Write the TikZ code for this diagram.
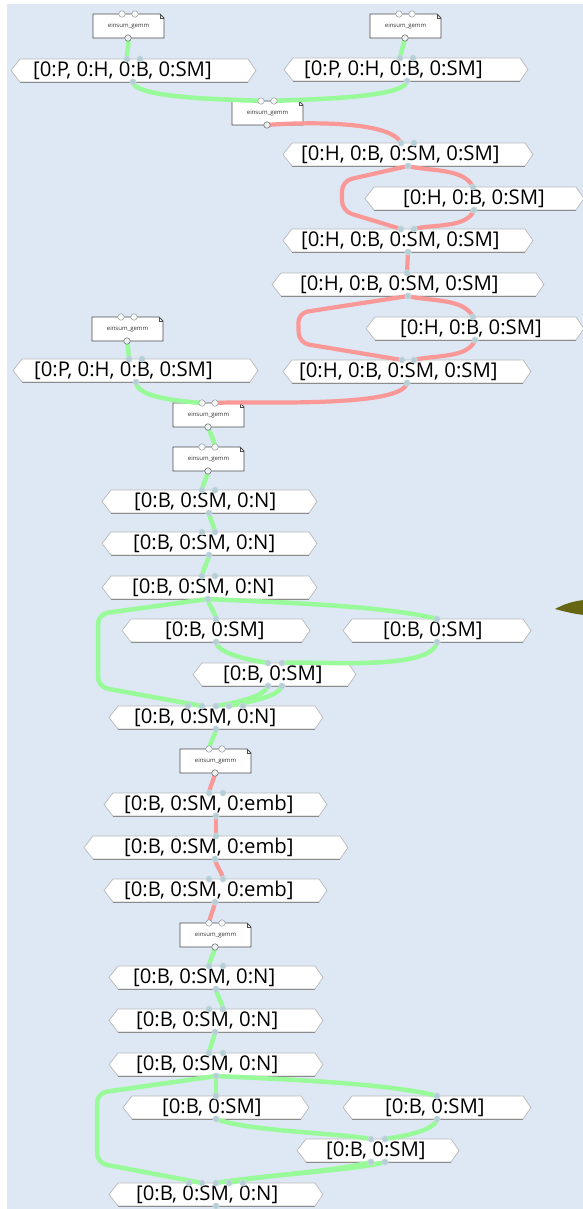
\documentclass[tikz,border=0pt]{standalone}
\usepackage{fontspec}
\setmainfont{Open Sans}
\usepackage{tikz}
\definecolor{fond}{RGB}{221,232,244}
\definecolor{vert}{RGB}{152,250,152}
\definecolor{rouge}{RGB}{250,152,152}
\definecolor{pin}{RGB}{182,207,215}
\definecolor{feuille}{RGB}{102,102,18}
\tikzstyle{lienV} = [line width=4.5pt,draw=vert,line cap=round]
\tikzstyle{lienR} = [line width=4.2pt,draw=rouge,line cap=round]
\tikzstyle{tenseur} = [fill=white,draw=gray!55,line width=0.7pt]
\tikzstyle{ombre} = [draw=gray!90,line width=0.8pt]
\tikzstyle{texte} = [anchor=west,inner sep=0pt,font=\fontsize{20.3}{21}\selectfont]
\tikzstyle{gemm} = [fill=white,draw=black!70,line width=0.8pt]
\tikzstyle{gemmtexte} = [inner sep=0pt,font=\fontsize{6}{7}\selectfont,text=black!80]
\tikzstyle{port} = [circle,fill=pin,draw=pin!60!white,inner sep=0pt,minimum size=6.5pt,line width=0.4pt]
\tikzstyle{portE} = [circle,fill=pin!15!white,draw=gray!80,inner sep=0pt,minimum size=6.5pt,line width=0.5pt]
\tikzstyle{portS} = [circle,fill=pin!30!white,draw=black!60,inner sep=0pt,minimum size=6.5pt,line width=0.5pt]

% tensor: name, left tip, right tip, top, text start, label
\newcommand{\tens}[6]{%
  \draw[tenseur] (#2,#4+11.5) -- (#2+9,#4) -- (#3-8,#4) -- (#3,#4+11.5) -- (#3-8,#4+23) -- (#2+9,#4+23) -- cycle;
  \draw[ombre] (#2+9,#4+23) -- (#3-8,#4+23);
  \node[texte] (#1) at (#5,#4+11.5) {#6};
}
% einsum box: name, left, top
\newcommand{\gemm}[3]{%
  \draw[gemm] (#2,#3) -- (#2+67,#3) -- (#2+71,#3+4) -- (#2+71,#3+24) -- (#2,#3+24) -- cycle;
  \draw[gemm,fill=none,line width=0.5pt] (#2+67,#3) -- (#2+67,#3+4) -- (#2+71,#3+4);
  \node[gemmtexte] (#1) at (#2+35.5,#3+12.5) {einsum\_gemm};
  \coordinate (#1a) at (#2+29,#3);
  \coordinate (#1b) at (#2+42,#3);
  \coordinate (#1o) at (#2+35,#3+24);
}

\begin{document}
\begin{tikzpicture}[x=1pt,y=-1pt]
	\useasboundingbox (0,0) rectangle (583,1209);
	\fill[fond] (7,4) rectangle (583,1209);

	\tens{T1}{11}{256}{59}{33}{[0:P, 0:H, 0:B, 0:SM]}
	\tens{T2}{284}{528}{58}{304}{[0:P, 0:H, 0:B, 0:SM]}
	\tens{T3}{283}{533}{143}{301}{[0:H, 0:B, 0:SM, 0:SM]}
	\tens{T4}{365}{584}{187}{403}{[0:H, 0:B, 0:SM]}
	\tens{T5}{283}{533}{229}{301}{[0:H, 0:B, 0:SM, 0:SM]}
	\tens{T6}{272}{544}{273}{300}{[0:H, 0:B, 0:SM, 0:SM]}
	\tens{T7}{366}{584}{317}{400}{[0:H, 0:B, 0:SM]}
	\tens{T8}{283}{531}{360}{299}{[0:H, 0:B, 0:SM, 0:SM]}
	\tens{T9}{13}{258}{359}{34}{[0:P, 0:H, 0:B, 0:SM]}
	\tens{T10}{102}{317}{490}{134}{[0:B, 0:SM, 0:N]}
	\tens{T11}{102}{317}{532}{133}{[0:B, 0:SM, 0:N]}
	\tens{T12}{102}{317}{576}{132}{[0:B, 0:SM, 0:N]}
	\tens{T13}{122}{310}{619}{165}{[0:B, 0:SM]}
	\tens{T14}{343}{531}{619}{383}{[0:B, 0:SM]}
	\tens{T15}{193}{356}{663}{223}{[0:B, 0:SM]}
	\tens{T16}{109}{323}{706}{134}{[0:B, 0:SM, 0:N]}
	\tens{T17}{104}{327}{793}{124}{[0:B, 0:SM, 0:emb]}
	\tens{T18}{84}{348}{836}{124}{[0:B, 0:SM, 0:emb]}
	\tens{T19}{104}{327}{879}{124}{[0:B, 0:SM, 0:emb]}
	\tens{T20}{109}{323}{966}{133}{[0:B, 0:SM, 0:N]}
	\tens{T21}{109}{323}{1009}{136}{[0:B, 0:SM, 0:N]}
	\tens{T22}{109}{323}{1053}{136}{[0:B, 0:SM, 0:N]}
	\tens{T23}{123}{309}{1096}{162}{[0:B, 0:SM]}
	\tens{T24}{343}{531}{1096}{385}{[0:B, 0:SM]}
	\tens{T25}{297}{459}{1139}{326}{[0:B, 0:SM]}
	\tens{T26}{109}{323}{1183}{136}{[0:B, 0:SM, 0:N]}

	\gemm{E1}{93}{14}
	\gemm{E2}{370}{14}
	\gemm{E3}{232}{101}
	\gemm{E4}{92}{317}
	\gemm{E5}{173}{403}
	\gemm{E6}{173}{447}
	\gemm{E7}{180}{749}
	\gemm{E8}{180}{923}

	% ports of the tensors
	\def\ports{T1a/127/59,T1b/140/59,T1o/133/82,
		T2a/400/58,T2b/413/58,T2o/407/81,
		T3a/401/143,T3b/414/143,T3o/408/166,
		T4a/473/187,T4o/474/210,
		T5a/401/229,T5b/414/229,T5o/408/252,
		T6a/407/273,T6o/408/296,
		T7a/473/317,T7o/475/340,
		T8a/402/360,T8b/414/360,T8o/407/383,
		T9a/129/359,T9b/142/359,T9o/136/382,
		T10a/202/490,T10b/215/490,T10o/209/513,
		T11a/202/532,T11b/215/532,T11o/209/555,
		T12a/202/576,T12b/215/576,T12o/208/599,
		T13a/216/619,T13o/216/642,
		T14a/437/619,T14o/437/642,
		T15a/268/663,T15b/282/663,T15o/268/686,T15p/282/686,
		T16a/188/706,T16b/202/706,T16c/216/706,T16d/229/706,T16e/243/706,T16o/216/729,
		T17a/209/793,T17b/223/793,T17o/216/816,
		T18a/216/836,T18o/215/859,
		T19a/209/879,T19b/223/879,T19o/215/902,
		T20a/209/966,T20b/223/966,T20o/216/989,
		T21a/209/1009,T21b/223/1009,T21o/215/1032,
		T22a/209/1053,T22b/223/1053,T22o/216/1076,
		T23a/216/1096,T23o/216/1119,
		T24a/437/1096,T24o/437/1119,
		T25a/371/1139,T25b/385/1139,T25o/371/1162,T25p/385/1162,
		T26a/189/1183,T26b/202/1183,T26c/216/1183,T26d/229/1183,T26e/243/1183,T26o/216/1206}
	\foreach \n/\x/\y in \ports {\coordinate (\n) at (\x,\y);}

	\fill[feuille] (555,609) .. controls (566,603) and (575,601) .. (584,600) -- (584,615) .. controls (575,614) and (566,612) .. cycle;

	% top part
	\draw[lienV] (E1o) to[out=-80,in=95] (T1a);
	\draw[lienV] (E2o) to[out=-100,in=80] (T2a);
	\draw[lienV] (T1o) to[out=-85,in=175,looseness=0.35] (E3a);
	\draw[lienV] (T2o) to[out=-95,in=5,looseness=0.35] (E3b);
	\draw[lienR] (E3o) to[out=5,in=115,looseness=0.5] (T3a);
	\draw[lienR] (T3o) to[out=-15,in=115,looseness=0.8] (T4a);
	\draw[lienR,rounded corners=10pt] (T3o) -- (342,181) -- (342,211) -- (T5a);
	\draw[lienR] (T4o) to[out=-110,in=15,looseness=0.8] (T5b);
	\draw[lienR] (T5o) -- (T6a);
	\draw[lienR] (T6o) to[out=-15,in=115,looseness=0.8] (T7a);
	\draw[lienR,rounded corners=10pt] (T6o) -- (298,313) -- (299,343) -- (T8a);
	\draw[lienR] (T7o) to[out=-110,in=15,looseness=0.8] (T8b);
	\draw[lienR] (T8o) to[out=-100,in=5,looseness=0.35] (E5b);
	\draw[lienV] (E4o) to[out=-80,in=95] (T9a);
	\draw[lienV] (T9o) to[out=-90,in=175,looseness=0.6] (E5a);
	\draw[lienV] (E5o) to[out=-70,in=100] (E6b);

	% first block
	\draw[lienV] (E6o) to[out=-100,in=80] (T10a);
	\draw[lienV] (T10o) to[out=-80,in=100] (T11b);
	\draw[lienV] (T11o) to[out=-100,in=80] (T12a);
	\draw[lienV] (T12o) to[out=-80,in=100] (T13a);
	\draw[lienV] (T12o) to[out=-3,in=165,looseness=0.6] (T14a);
	\draw[lienV,rounded corners=10pt] (T12o) -- (98,614) -- (98,687) -- (T16b);
	\draw[lienV] (T13o) to[out=-80,in=170,looseness=0.6] (T15a);
	\draw[lienV] (T14o) to[out=-100,in=5,looseness=0.5] (T15b);
	\draw[lienV] (T15o) to[out=-110,in=10,looseness=0.6] (T16c);
	\draw[lienV] (T15p) to[out=-110,in=15,looseness=0.6] (T16d);
	\draw[lienV] (T16o) to[out=-100,in=80] (E7a);

	% middle block
	\draw[lienR] (E7o) to[out=-100,in=80] (T17a);
	\draw[lienR] (T17o) -- (T18a);
	\draw[lienR] (T18o) to[out=-80,in=100] (T19b);
	\draw[lienR] (T19o) to[out=-100,in=80] (E8a);

	% last block
	\draw[lienV] (E8o) to[out=-100,in=80] (T20a);
	\draw[lienV] (T20o) to[out=-80,in=100] (T21b);
	\draw[lienV] (T21o) to[out=-100,in=80] (T22a);
	\draw[lienV] (T22o) -- (T23a);
	\draw[lienV] (T22o) to[out=-3,in=165,looseness=0.6] (T24a);
	\draw[lienV,rounded corners=10pt] (T22o) -- (97,1093) -- (97,1163) -- (T26b);
	\draw[lienV] (T23o) to[out=-20,in=170,looseness=0.6] (T25a);
	\draw[lienV] (T24o) to[out=-100,in=10,looseness=0.6] (T25b);
	\draw[lienV] (T25o) to[out=-165,in=10,looseness=0.6] (T26c);
	\draw[lienV] (T25p) to[out=-165,in=15,looseness=0.6] (T26d);

	\foreach \n/\x/\y in \ports {\node[port] at (\n) {};}
	\foreach \e in {E1,E2,E3,E4,E5,E6,E7,E8} {
		\node[portE] at (\e a) {};
		\node[portE] at (\e b) {};
		\node[portS] at (\e o) {};
	}
\end{tikzpicture}
\end{document}
